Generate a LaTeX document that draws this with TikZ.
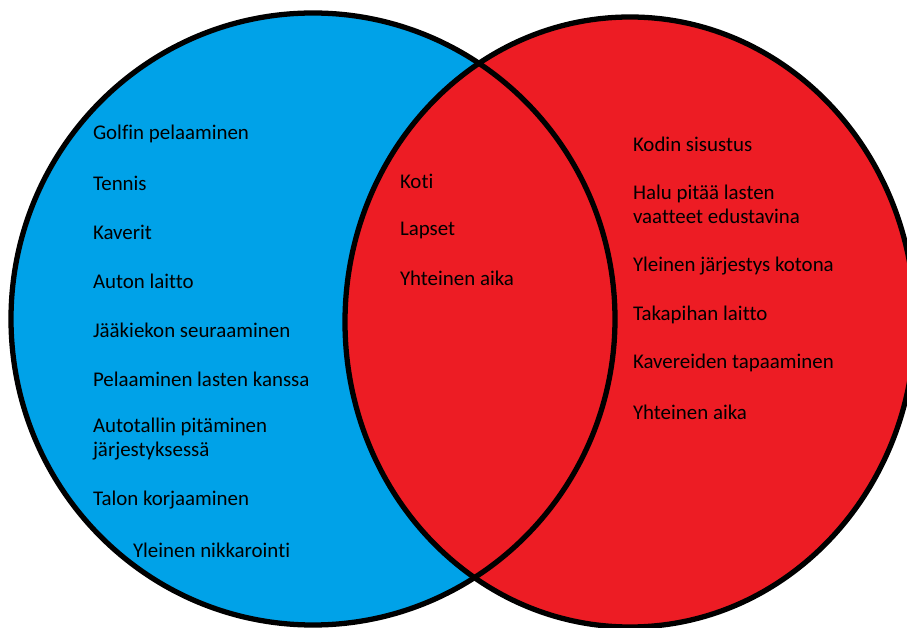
\documentclass[tikz,border=0pt]{standalone}
\usepackage{fontspec}
\setmainfont[Ligatures=NoCommon]{Carlito}
\definecolor{B}{RGB}{0,162,232}
\definecolor{R}{RGB}{237,28,36}
\usepackage{tikz}
\tikzstyle{base}=[x=0.02cm, y=-0.02cm, inner sep=0pt, outer sep=0pt]
\tikzstyle{ring}=[black, line width=3pt]
\tikzstyle{item}=[anchor=west, align=left, font=\fontsize{11.9}{13.6}\selectfont]

\begin{document}
\begin{tikzpicture}[base]
    \path [use as bounding box] (0,0) rectangle (907,628);
    \clip (0,0) rectangle (907,628);
        \fill [B] (313,319) ellipse [x radius=302, y radius=306];
        \fill [R] (630,322) ellipse [x radius=285, y radius=305];
        \draw [ring] (313,319) ellipse [x radius=302, y radius=306];
        \draw [ring] (630,322) ellipse [x radius=285, y radius=305];
        % left
        \node [item] (golf) at (93,134) {Golfin pelaaminen};
        \node [item] (tennis) at (93,183) {Tennis};
        \node [item] (kaverit) at (93,232) {Kaverit};
        \node [item] (auto) at (93,281) {Auton laitto};
        \node [item] (kiekko) at (93,330) {Jääkiekon seuraaminen};
        \node [item] (pelaa) at (93,379) {Pelaaminen lasten kanssa};
        \node [item] (talli) at (93,439) {Autotallin pitäminen\\järjestyksessä};
        \node [item] (talo) at (93,500) {Talon korjaaminen};
        \node [item] (nikkarointi) at (133,550) {Yleinen nikkarointi};
        % middle
        \node [item] (koti) at (400,181) {Koti};
        \node [item] (lapset) at (400,230) {Lapset};
        \node [item] (aikaY) at (400,278) {Yhteinen aika};
        % right
        \node [item] (sisustus) at (633,144) {Kodin sisustus};
        \node [item] (halu) at (633,204) {Halu pitää lasten\\vaatteet edustavina};
        \node [item] (jarjestys) at (633,266) {Yleinen järjestys kotona};
        \node [item] (takapiha) at (633,315) {Takapihan laitto};
        \node [item] (tapaaminen) at (633,363) {Kavereiden tapaaminen};
        \node [item] (aikaR) at (633,412) {Yhteinen aika};
    \end{tikzpicture}
\end{document}
